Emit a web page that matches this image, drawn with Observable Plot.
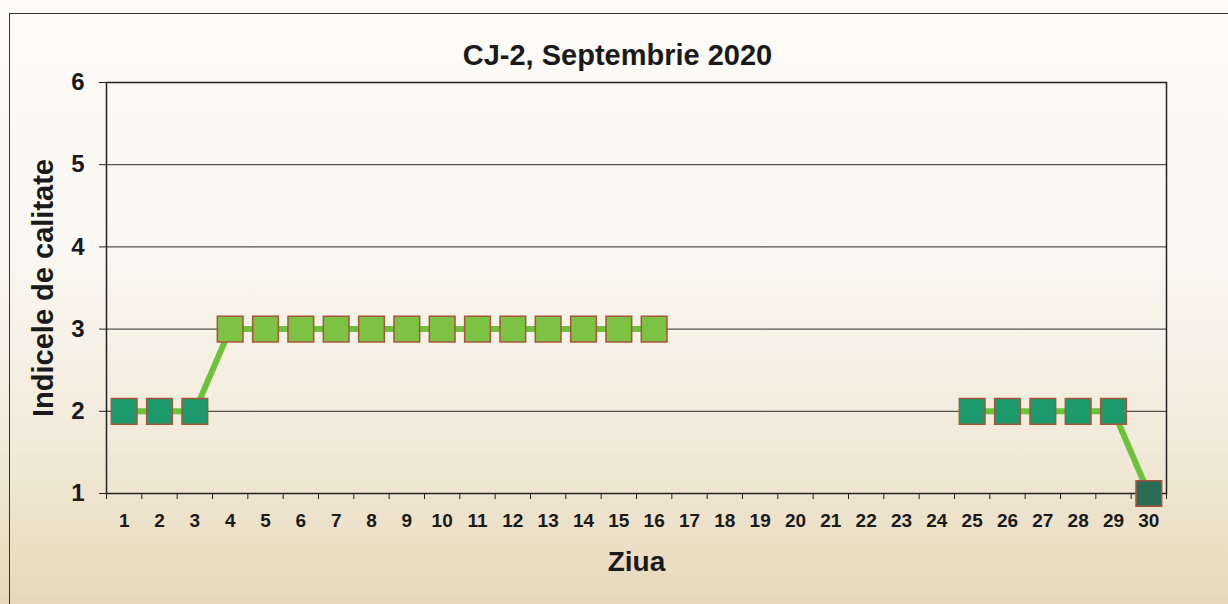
<!DOCTYPE html>
<html>
<head>
<meta charset="utf-8">
<script src="https://cdn.jsdelivr.net/npm/d3@7"></script>
<script src="https://cdn.jsdelivr.net/npm/@observablehq/plot@0.6"></script>
<style>
  html, body { margin: 0; padding: 0; }
  #wrap {
    position: relative; width: 1228px; height: 604px; overflow: hidden;
    background: linear-gradient(to bottom, #fcfbf8 0%, #faf8f2 40%, #f2ebdb 72%, #e7d8ba 100%);
  }
  #border {
    position: absolute; left: 9px; top: 13px; right: -5px; bottom: -5px;
    border-left: 1.5px solid #333; border-top: 1.5px solid #333;
    pointer-events: none;
  }
  #wrap svg { position: absolute; left: 0; top: 0; }
</style>
</head>
<body>
<div id="wrap"><div id="border"></div></div>
<script>
const title = "CJ-2, Septembrie 2020";
const xLabel = "Ziua";
const yLabel = "Indicele de calitate";
const days = [1,2,3,4,5,6,7,8,9,10,11,12,13,14,15,16,17,18,19,20,21,22,23,24,25,26,27,28,29,30];
const values = [2,2,2,3,3,3,3,3,3,3,3,3,3,3,3,3,null,null,null,null,null,null,null,null,2,2,2,2,2,1];
const yTicks = [1,2,3,4,5,6];
const classes = [1,2,3];
const classColors = ["#2b6c55","#1c9a6c","#7cc243"];

const data = days.map((d, i) => ({day: d, value: values[i]}));
const boundaries = days.map(d => d - 0.5).concat([days[days.length - 1] + 0.5]);
const font = "'Liberation Sans', Arial, sans-serif";

const chart = Plot.plot({
  width: 1228,
  height: 604,
  marginLeft: 106,
  marginRight: 62,
  marginTop: 82,
  marginBottom: 111,
  style: {background: "transparent", fontFamily: font, color: "#1a1a1a", overflow: "visible"},
  x: {domain: [0.5, 30.5]},
  y: {domain: [1, 6]},
  color: {type: "ordinal", domain: classes, range: classColors},
  marks: [
    Plot.gridY(yTicks.slice(1, -1), {stroke: "#2a2a2a", strokeOpacity: 1, strokeWidth: 1}),
    Plot.frame({stroke: "#222", strokeWidth: 1.5}),
    Plot.axisY({ticks: yTicks, tickFormat: "d", tickSize: 7, tickPadding: 15, fontSize: 24, fontWeight: "bold", label: null, stroke: "#222"}),
    Plot.axisX({ticks: days, tickFormat: "d", tickSize: 0, tickPadding: 20, fontSize: 19, fontWeight: "bold", label: null}),
    Plot.axisX({ticks: boundaries, tickSize: 6, tickFormat: () => "", label: null, stroke: "#222"}),
    Plot.line(data, {x: "day", y: "value", stroke: "#6cc23a", strokeWidth: 6}),
    Plot.dot(data, {x: "day", y: "value", symbol: "square", r: 14.5, fill: "value", stroke: "#a9553b", strokeWidth: 1.5}),
    Plot.text([title], {frameAnchor: "top", dx: -19, dy: -27, lineAnchor: "middle", textAnchor: "middle", fontSize: 29, fontWeight: "bold", fill: "#1a1a1a"}),
    Plot.text([xLabel], {frameAnchor: "bottom", dy: 69, lineAnchor: "middle", textAnchor: "middle", fontSize: 28, fontWeight: "bold", fill: "#1a1a1a"}),
    Plot.text([yLabel], {frameAnchor: "left", dx: -63, rotate: -90, lineAnchor: "middle", textAnchor: "middle", fontSize: 29, fontWeight: "bold", fill: "#1a1a1a"})
  ]
});
document.getElementById("wrap").appendChild(chart);
</script>
</body>
</html>
